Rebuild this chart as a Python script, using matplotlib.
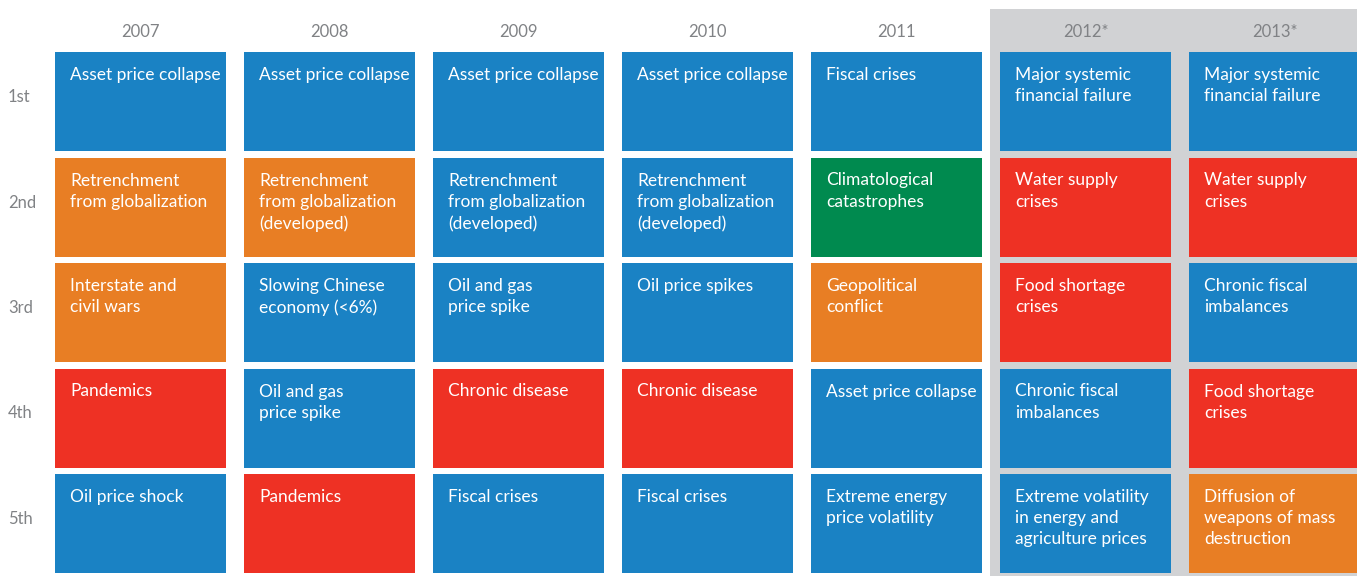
import matplotlib.pyplot as plt
from matplotlib.patches import Rectangle

years = ['2007', '2008', '2009', '2010', '2011', '2012*', '2013*']
ranks = ['1st', '2nd', '3rd', '4th', '5th']

risks = [
    ['Asset price collapse', 'Retrenchment\nfrom globalization', 'Interstate and\ncivil wars',
     'Pandemics', 'Oil price shock'],
    ['Asset price collapse', 'Retrenchment\nfrom globalization\n(developed)', 'Slowing Chinese\neconomy (<6%)',
     'Oil and gas\nprice spike', 'Pandemics'],
    ['Asset price collapse', 'Retrenchment\nfrom globalization\n(developed)', 'Oil and gas\nprice spike',
     'Chronic disease', 'Fiscal crises'],
    ['Asset price collapse', 'Retrenchment\nfrom globalization\n(developed)', 'Oil price spikes',
     'Chronic disease', 'Fiscal crises'],
    ['Fiscal crises', 'Climatological\ncatastrophes', 'Geopolitical\nconflict',
     'Asset price collapse', 'Extreme energy\nprice volatility'],
    ['Major systemic\nfinancial failure', 'Water supply\ncrises', 'Food shortage\ncrises',
     'Chronic fiscal\nimbalances', 'Extreme volatility\nin energy and\nagriculture prices'],
    ['Major systemic\nfinancial failure', 'Water supply\ncrises', 'Chronic fiscal\nimbalances',
     'Food shortage\ncrises', 'Diffusion of\nweapons of mass\ndestruction'],
]

# E = economic, G = geopolitical, S = societal, N = environmental
kinds = [
    ['E', 'G', 'G', 'S', 'E'],
    ['E', 'G', 'E', 'E', 'S'],
    ['E', 'E', 'E', 'S', 'E'],
    ['E', 'E', 'E', 'S', 'E'],
    ['E', 'N', 'G', 'E', 'E'],
    ['E', 'S', 'S', 'E', 'E'],
    ['E', 'S', 'E', 'S', 'G'],
]
colours = {'E': '#1a82c4', 'G': '#e87e24', 'S': '#ee3124', 'N': '#008a4f'}

W, H = 1357, 576
x0, dx, cw = 55, 189, 171
y0, dy, ch = 52, 105.5, 99

plt.rcParams['font.family'] = ['Lato', 'DejaVu Sans']
fig = plt.figure(figsize=(W / 100, H / 100), dpi=100)
ax = fig.add_axes([0, 0, 1, 1])
ax.set_xlim(0, W)
ax.set_ylim(H, 0)
ax.axis('off')

# forecast years get a grey backdrop
ax.add_patch(Rectangle((990, 9), W - 990, H - 9, color='#d1d2d4', lw=0))

for i, yr in enumerate(years):
    cx = x0 + i * dx
    ax.text(cx + cw / 2, 32, yr, ha='center', va='center', fontsize=12, color='#808285')
    for j in range(len(ranks)):
        cy = y0 + j * dy
        ax.add_patch(Rectangle((cx, cy), cw, ch, color=colours[kinds[i][j]], lw=0))
        ax.text(cx + 15, cy + 15, risks[i][j], ha='left', va='top', fontsize=12.5,
                color='white', linespacing=1.4)

for j, r in enumerate(ranks):
    ax.text(8, y0 + j * dy + 45, r, ha='left', va='center', fontsize=12, color='#808285')

fig.savefig('out.png', dpi=100)
